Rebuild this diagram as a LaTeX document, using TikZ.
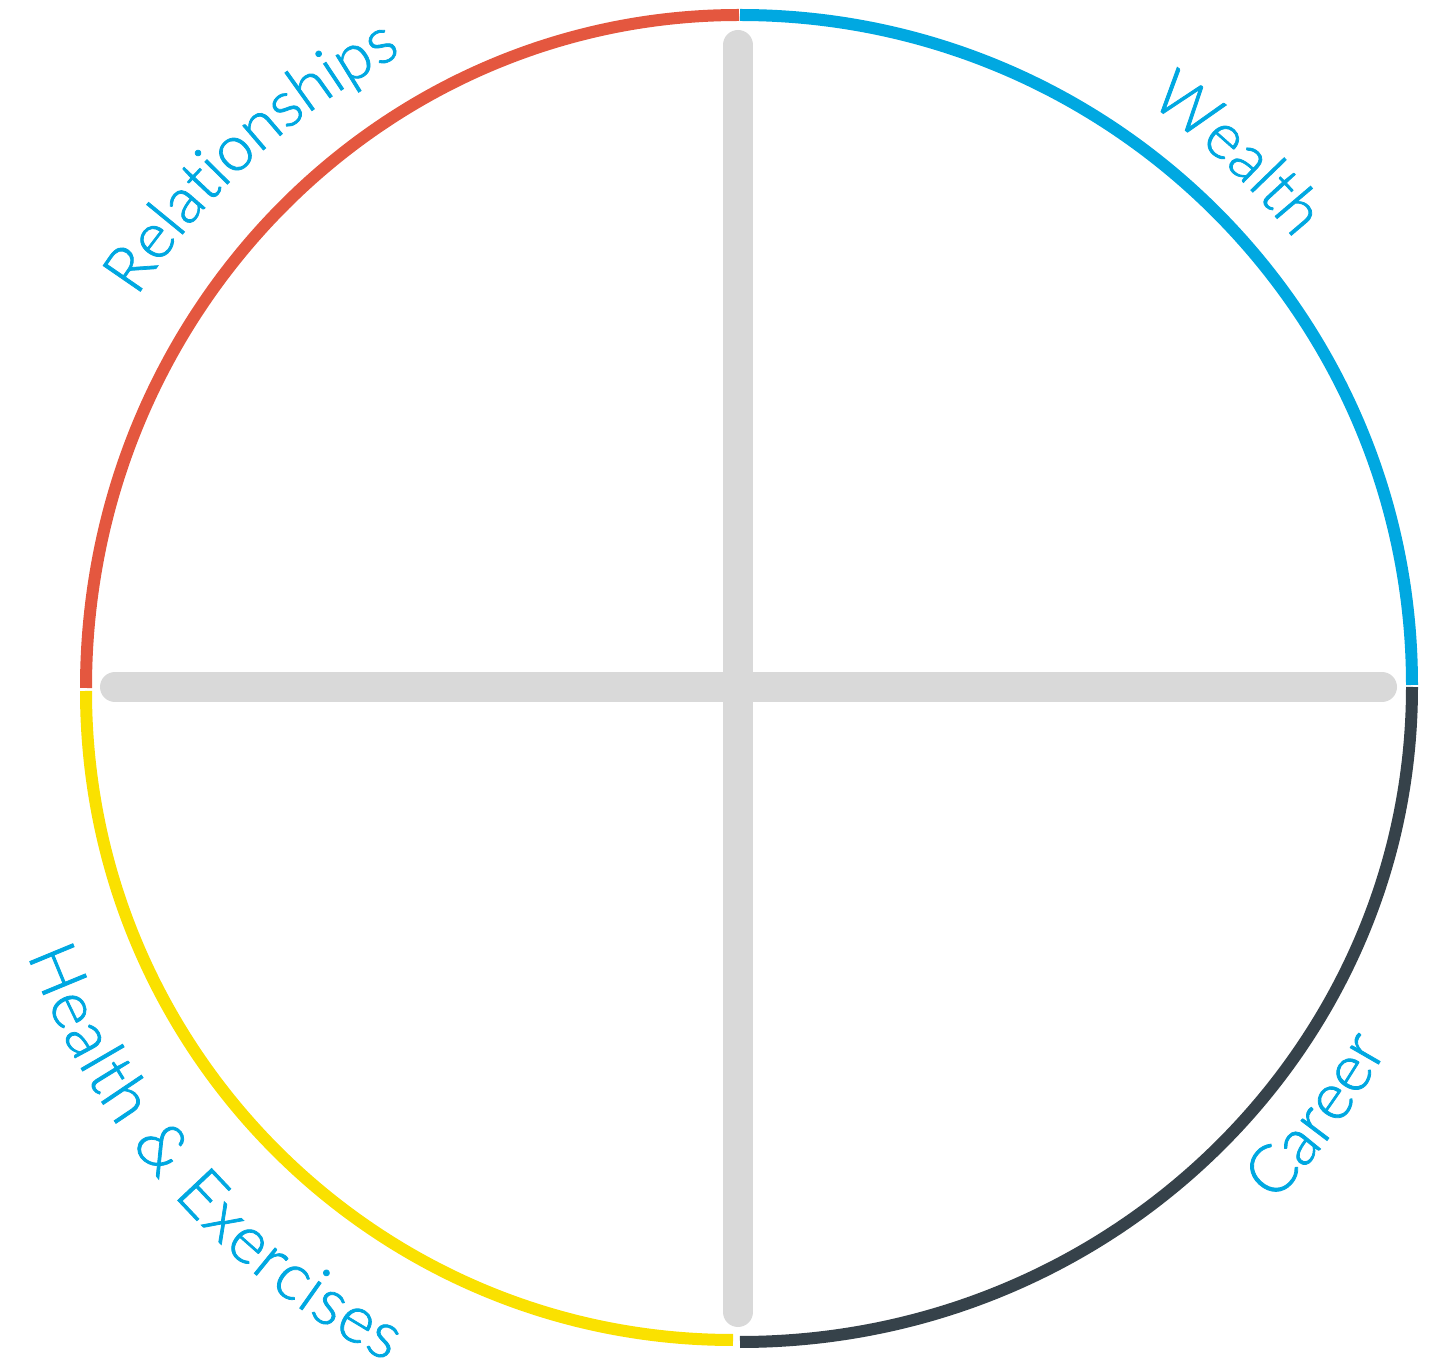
\documentclass[tikz,border=0pt]{standalone}
\usepackage{fontspec}
\newfontfamily\lblfont{Lato Light}[FakeBold=1.2]
\usetikzlibrary{decorations.text,calc}
\definecolor{cred}{HTML}{E4573F}
\definecolor{cblue}{HTML}{00A8E1}
\definecolor{cyellow}{HTML}{FAE100}
\definecolor{cdark}{HTML}{36424A}
\definecolor{cgray}{HTML}{D9D9D9}
\newcommand\hefont{\lblfont\fontsize{33}{33}\selectfont}
\begin{document}
\begin{tikzpicture}[x=0.5pt,y=0.5pt,
  rim/.style={line width=6pt},
  spoke/.style={line width=15pt, line cap=round, draw=cgray}]
\useasboundingbox (0,0) rectangle (1432,1357);
\coordinate (O) at (739,669);
% spokes
\coordinate (vt) at (738,1312);
\coordinate (vb) at (738,45);
\coordinate (hl) at (115,670);
\coordinate (hr) at (1382,670);
\draw[spoke] (vt) -- (vb);
\draw[spoke] (hl) -- (hr);
% rim quarters
\draw[rim, cred] (86,669) arc[start angle=180, end angle=90, x radius=653, y radius=673];
\draw[rim, cblue] (740,1342) arc[start angle=90, end angle=0, x radius=672, y radius=670];
\draw[rim, cdark] (1412,670) arc[start angle=0, end angle=-90, x radius=672, y radius=655];
\draw[rim, cyellow] (733,17) arc[start angle=-90, end angle=-180, x radius=647, y radius=649];
% labels
\path[decorate, decoration={text along path, text align=center, text color=cblue,
  text={|\lblfont\fontsize{32}{32}\selectfont|Relationships}}]
  ($(O)+(162.5:718)$) arc[start angle=162.5, end angle=102.5, radius=718];
\path[decorate, decoration={text along path, text align=center, text color=cblue,
  text={|\lblfont\fontsize{32}{32}\selectfont|Wealth}}]
  ($(O)+(77:714)$) arc[start angle=77, end angle=17, radius=714];
\path[decorate, decoration={text along path, text align=center, text color=cblue,
  text={|\lblfont\fontsize{33}{33}\selectfont|Career}}]
  ($(O)+(-66:742)$) arc[start angle=-66, end angle=-7, radius=742];
\path[decorate, decoration={text effects along path, text={Health {\&} Exercises},
  text align=center,
  text effects/.cd, text along path,
  characters={text=cblue, font=\hefont, inner xsep=0.3pt, inner ysep=0pt, anchor=base},
  character widths={font=\hefont, inner xsep=0.3pt, inner ysep=0pt}}]
  ($(O)+(189.5:760)$) arc[start angle=189.5, end angle=253.5, radius=760];
\end{tikzpicture}
\end{document}
